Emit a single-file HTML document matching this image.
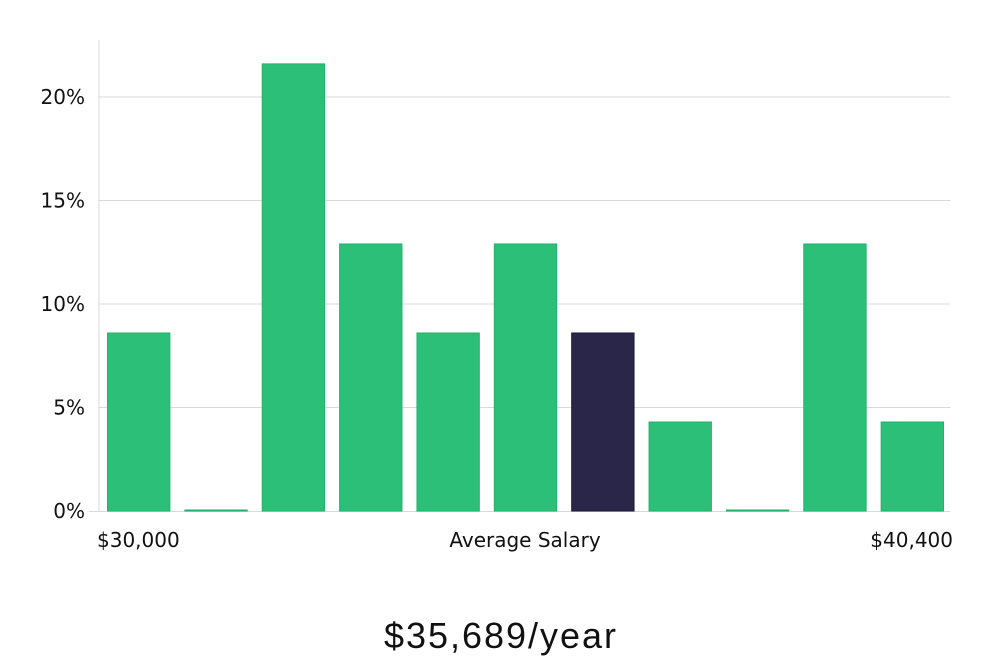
<!DOCTYPE html>
<html><head><meta charset="utf-8"><style>
html,body{margin:0;padding:0;background:#fff;}
body{width:1000px;height:660px;overflow:hidden;font-family:"DejaVu Sans","Liberation Sans",sans-serif;}
</style></head><body>
<svg id="chart" width="1000" height="660"></svg>
<script>
const categories=["b1","b2","b3","b4","b5","b6","b7","b8","b9","b10","b11"];
const values=[8.6,0,21.6,12.9,8.6,12.9,8.6,4.3,0,12.9,4.3];
const highlight=[false,false,false,false,false,false,true,false,false,false,false];
const yTicks=[0,5,10,15,20];
const yTickLabels=["0%","5%","10%","15%","20%"];
const xLabels=["$30,000","Average Salary","$40,400"];
const ns="http://www.w3.org/2000/svg";
const svg=document.getElementById('chart');
const x0=99,x1=950,yBase=511,pxPer=20.7;
function y(v){return yBase-v*pxPer;}
const band=(x1-x0)/categories.length;
function xb(i){return x0+i*band;}
function el(t,a){const e=document.createElementNS(ns,t);for(const k in a)e.setAttribute(k,a[k]);svg.appendChild(e);return e;}
yTicks.forEach((t,i)=>{
  if(t>0){const g=el('line',{x1:x0,x2:x1,y1:y(t),y2:y(t),stroke:'#d9d9d9','stroke-width':1});
  
  }
  const tx=el('text',{x:85,y:y(t)+7,'text-anchor':'end','font-size':20,fill:'#111','font-family':'DejaVu Sans, sans-serif'});
  tx.textContent=yTickLabels[i];
  
  
});
const ax=el('line',{x1:x0,x2:x0,y1:40,y2:yBase,stroke:'#d9d9d9','stroke-width':1});


const bx=el('line',{x1:x0-10,x2:x1,y1:yBase+0.5,y2:yBase+0.5,stroke:'#d9d9d9','stroke-width':1});


values.forEach((v,i)=>{
  const h=Math.max(1,v*pxPer);
  const c=highlight[i]?'#29264a':'#2bbf77';
  const r=el('rect',{x:xb(i)+8.5,y:yBase-h,width:band-15,height:h,fill:c,stroke:highlight[i]?'#1a1838':'#22b36b','stroke-width':1});
  
  
});
const xl=[{x:97,a:'start'},{x:525,a:'middle'},{x:953,a:'end'}];
xLabels.forEach((l,i)=>{
  const t=el('text',{x:xl[i].x,y:547,'text-anchor':xl[i].a,'font-size':20,fill:'#111','font-family':'DejaVu Sans, sans-serif'});
  t.textContent=l;
  
  
});
const ti=el('text',{x:500,y:648,'text-anchor':'middle','font-size':36,fill:'#111','textLength':232,'font-family':'Liberation Sans, sans-serif'});
ti.textContent="$35,689/year";


</script>
</body></html>
